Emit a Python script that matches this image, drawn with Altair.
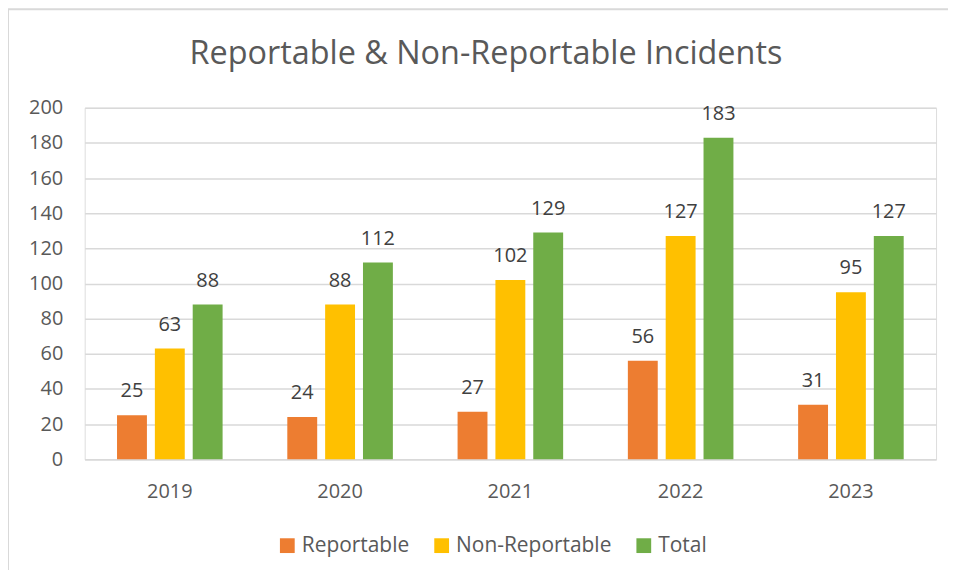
import altair as alt
import pandas as pd

title_text = "Reportable & Non-Reportable Incidents"
years = ["2019", "2020", "2021", "2022", "2023"]
series = ["Reportable", "Non-Reportable", "Total"]
reportable = [25, 24, 27, 56, 31]
non_reportable = [63, 88, 102, 127, 95]
total = [88, 112, 129, 183, 127]
colors = ["#ED7D31", "#FFC000", "#70AD47"]
y_ticks = [0, 20, 40, 60, 80, 100, 120, 140, 160, 180, 200]

rows = []
for i, y in enumerate(years):
    for s, vals in zip(series, [reportable, non_reportable, total]):
        rows.append({"Year": y, "Series": s, "Value": vals[i]})
df = pd.DataFrame(rows)

W, H = 855, 353
FONT = "Open Sans"

x = alt.X("Year:N", sort=years, title=None,
          scale=alt.Scale(paddingInner=0.38, paddingOuter=0.19),
          axis=alt.Axis(labelAngle=0, labelFontSize=20, labelColor="#595959",
                        labelFont=FONT, ticks=False, domainColor="#d9d9d9",
                        domainWidth=1.5, labelPadding=22))
y = alt.Y("Value:Q", title=None,
          scale=alt.Scale(domain=[0, 200], nice=False),
          axis=alt.Axis(values=y_ticks, tickCount=11, labelFontSize=20, labelColor="#595959",
                        labelFont=FONT, ticks=False, domain=False, labelOverlap=False,
                        gridColor="#d9d9d9", gridWidth=1.5, labelPadding=22))
xo = alt.XOffset("Series:N", sort=series,
                 scale=alt.Scale(paddingInner=0.21, paddingOuter=0))
color = alt.Color("Series:N", sort=series,
                  scale=alt.Scale(domain=series, range=colors),
                  legend=alt.Legend(title=None, orient="none", direction="horizontal",
                                    legendX=193, legendY=429, symbolType="square",
                                    symbolSize=220, symbolStrokeWidth=0,
                                    labelFontSize=21, labelColor="#595959",
                                    labelFont=FONT, columnPadding=22,
                                    symbolOpacity=1))

base = alt.Chart(df)
bars = base.mark_bar(opacity=1).encode(x=x, y=y, xOffset=xo, color=color)
labels = base.mark_text(dy=-24, fontSize=20, color="#404040", font=FONT).encode(
    x=x, y=y, xOffset=xo, text="Value:Q")

one = pd.DataFrame({"t": [title_text]})
title = alt.Chart(one).mark_text(fontSize=32.5, font=FONT, color="#595959",
                                 baseline="alphabetic", align="center").encode(
    x=alt.value(403), y=alt.value(-44), text="t:N")

border_top = alt.Chart(one).mark_rule(color="#d9d9d9", strokeWidth=2).encode(
    x=alt.value(-77), x2=alt.value(880), y=alt.value(-99))
border_left = alt.Chart(one).mark_rule(color="#d9d9d9", strokeWidth=2).encode(
    x=alt.value(-77), y=alt.value(-99), y2=alt.value(480))

chart = alt.layer(bars, labels, title, border_top, border_left).properties(
    width=W, height=H,
    autosize=alt.AutoSizeParams(type="none"),
    padding={"left": 77, "top": 99, "right": 12, "bottom": 110},
).configure_view(stroke=None).configure(background="white")

chart.save("out.html", embed_options={"renderer": "svg", "actions": False})
